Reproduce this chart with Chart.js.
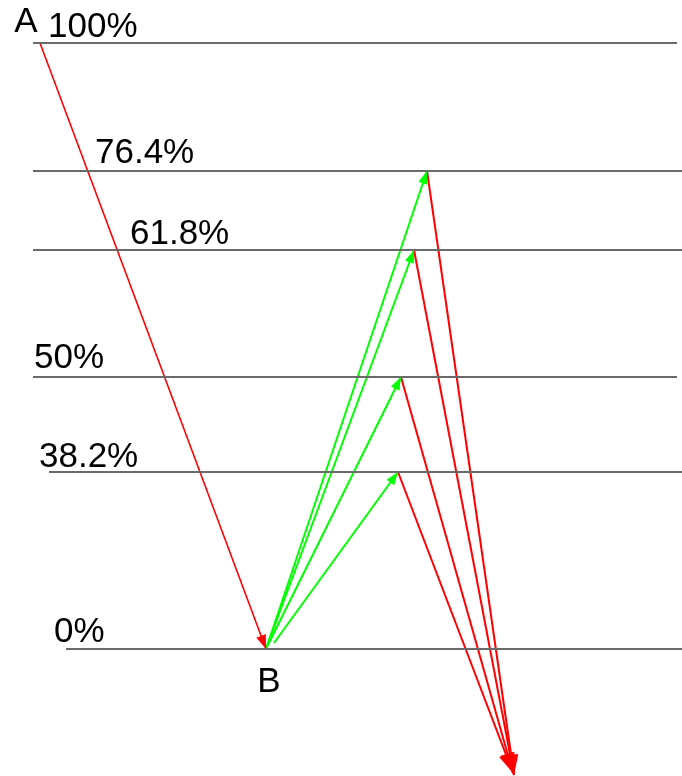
<!DOCTYPE html>
<html lang="en">
<head>
<meta charset="UTF-8">
<title>Fibonacci retracement</title>
<script src="https://cdn.jsdelivr.net/npm/chart.js"></script>
<style>
  html, body { margin: 0; padding: 0; background: #fff; }
  #wrap { width: 682px; height: 776px; }
</style>
</head>
<body>
<div id="wrap"><canvas id="fib"></canvas></div>
<script>
// retracement levels, height above point B (drawing units)
const levelNames = ['100%', '76.4%', '61.8%', '50%', '38.2%', '0%'];
const levelValues = [606, 478, 399, 272, 177, 0];
const levelFrom = [33, 33, 33, 33, 49, 66];
const levelTo = [677, 682, 682, 677, 682, 682];

// swing A -> B
const swingX = [40, 266];
const swingY = [606, 0];

// bounces from B up to each level, then down again
const riseFromX = [266, 266, 266, 274];
const riseFromY = [0, 0, 0, 6];
const peakX = [427, 414, 401, 398];
const peakY = [478, 399, 272, 177];
const dropToX = [514, 514, 513, 513];
const dropToY = [-126, -126, -124, -124];

const RED = '#ff0000';
const GREEN = '#00ff00';
const GREY = '#6a6a6a';

const datasets = [];

levelValues.forEach((v, i) => {
    datasets.push({
        data: [{x: levelFrom[i], y: v}, {x: levelTo[i], y: v}],
        borderColor: GREY,
        borderWidth: 2
    });
});

datasets.push({
    data: [{x: swingX[0], y: swingY[0]}, {x: swingX[1], y: swingY[1]}],
    borderColor: RED,
    borderWidth: 1.6,
    arrow: 14
});

peakX.forEach((px, i) => {
    datasets.push({
        data: [{x: px, y: peakY[i]}, {x: dropToX[i], y: dropToY[i]}],
        borderColor: RED,
        borderWidth: 2,
        arrow: 20
    });
    datasets.push({
        data: [{x: riseFromX[i], y: riseFromY[i]}, {x: px, y: peakY[i]}],
        borderColor: GREEN,
        borderWidth: 2,
        arrow: 13
    });
});

// arrow heads at the end of each segment
const arrowHeads = {
    id: 'arrowHeads',
    afterDatasetsDraw(chart) {
        const ctx = chart.ctx;
        chart.data.datasets.forEach((ds, i) => {
            if (!ds.arrow) return;
            const pts = chart.getDatasetMeta(i).data;
            const p0 = pts[pts.length - 2], p1 = pts[pts.length - 1];
            const a = Math.atan2(p1.y - p0.y, p1.x - p0.x);
            const len = ds.arrow, half = ds.arrow * 0.36;
            const c = Math.cos(a), s = Math.sin(a);
            ctx.save();
            ctx.fillStyle = ds.borderColor;
            ctx.beginPath();
            ctx.moveTo(p1.x, p1.y);
            ctx.lineTo(p1.x - len * c + half * s, p1.y - len * s - half * c);
            ctx.lineTo(p1.x - len * c - half * s, p1.y - len * s + half * c);
            ctx.closePath();
            ctx.fill();
            ctx.restore();
        });
    }
};

// level names and the A / B letters
const labels = {
    id: 'labels',
    afterDatasetsDraw(chart, args, opts) {
        const ctx = chart.ctx;
        const xs = chart.scales.x, ys = chart.scales.y;
        ctx.save();
        ctx.fillStyle = '#000';
        ctx.font = '35px "Liberation Sans", Arial, sans-serif';
        ctx.textBaseline = 'alphabetic';
        levelNames.forEach((name, i) => {
            ctx.textAlign = 'left';
            ctx.fillText(name, xs.getPixelForValue(opts.levelLabelX[i]),
                ys.getPixelForValue(levelValues[i]) - opts.levelGap[i]);
        });
        ctx.textAlign = 'center';
        ctx.fillText('A', xs.getPixelForValue(swingX[0]) - 14, ys.getPixelForValue(swingY[0]) - 11);
        ctx.fillText('B', xs.getPixelForValue(swingX[1]) + 3, ys.getPixelForValue(swingY[1]) + 43);
        ctx.restore();
    }
};

new Chart(document.getElementById('fib'), {
    type: 'scatter',
    data: { datasets: datasets },
    options: {
        responsive: true,
        maintainAspectRatio: false,
        animation: false,
        layout: { padding: 0 },
        datasets: {
            scatter: { showLine: true, pointRadius: 0, clip: false }
        },
        scales: {
            x: { type: 'linear', min: 0, max: 682, display: false },
            y: { type: 'linear', min: -127, max: 649, display: false }
        },
        plugins: {
            legend: { display: false },
            tooltip: { enabled: false },
            labels: {
                levelLabelX: [48, 95, 130, 34, 39, 54],
                levelGap: [6, 8, 6, 9, 5, 7]
            }
        }
    },
    plugins: [arrowHeads, labels]
});
</script>
</body>
</html>
